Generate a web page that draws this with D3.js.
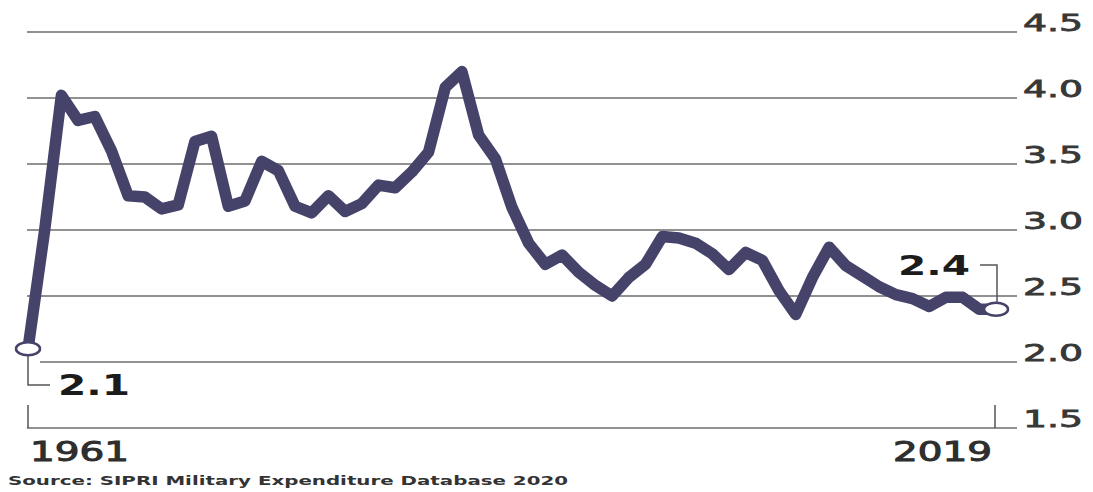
<!DOCTYPE html>
<html>
<head>
<meta charset="utf-8">
<script src="https://cdn.jsdelivr.net/npm/d3@7"></script>
<style>
  html, body { margin: 0; padding: 0; background: #fff; }
  svg { display: block; }
  text { font-family: "DejaVu Sans", Verdana, sans-serif; }
</style>
</head>
<body>
<svg id="chart" width="1093" height="492"></svg>
<script>
// Military expenditure as share of GDP (%), 1961–2019
const years = d3.range(1961, 2020);
const values = [
  2.1, 3.0, 4.02, 3.83, 3.86, 3.6, 3.26, 3.25, 3.16, 3.19,
  3.67, 3.71, 3.18, 3.22, 3.52, 3.45, 3.18, 3.13, 3.26, 3.14,
  3.2, 3.34, 3.32, 3.44, 3.59, 4.08, 4.2, 3.72, 3.54, 3.17,
  2.9, 2.74, 2.81, 2.68, 2.58, 2.5, 2.64, 2.74, 2.95, 2.94,
  2.9, 2.82, 2.7, 2.83, 2.77, 2.54, 2.36, 2.64, 2.87, 2.73,
  2.65, 2.57, 2.51, 2.48, 2.42, 2.49, 2.49, 2.4, 2.4
];
const yTicks = [1.5, 2.0, 2.5, 3.0, 3.5, 4.0, 4.5];
const yearLabels = [1961, 2019];
const startLabel = "2.1";
const endLabel = "2.4";
const sourceText = "Source: SIPRI Military Expenditure Database 2020";

const data = years.map((yr, i) => ({ year: yr, value: values[i] }));

const svg = d3.select("#chart");
const lineColor = "#46436b";
const gridColor = "#919191";

const x = d3.scaleLinear().domain([1961, 2019]).range([28, 996]);
const y = d3.scaleLinear().domain([1.5, 4.5]).range([428, 32]);

const gridRight = 1017;

// horizontal gridlines
svg.append("g").selectAll("line")
  .data(yTicks)
  .join("line")
  .attr("x1", d => d === 2.0 ? 40 : 27)
  .attr("x2", gridRight)
  .attr("y1", d => y(d))
  .attr("y2", d => y(d))
  .attr("stroke", gridColor)
  .attr("stroke-width", 2);

// value labels on the right
svg.append("g").selectAll("text")
  .data(yTicks)
  .join("text")
  .attr("x", 1023)
  .attr("y", d => y(d) - 1)
  .attr("font-size", 23)
  .attr("fill", "#383838")
  .attr("stroke", "#383838")
  .attr("stroke-width", 0.8)
  .attr("textLength", 60)
  .attr("lengthAdjust", "spacingAndGlyphs")
  .text(d => d3.format(".1f")(d));

// year ticks at both ends of the baseline
svg.append("g").selectAll("line")
  .data(yearLabels)
  .join("line")
  .attr("x1", d => x(d) - (d === 2019 ? 1 : 0))
  .attr("x2", d => x(d) - (d === 2019 ? 1 : 0))
  .attr("y1", 405)
  .attr("y2", y(1.5))
  .attr("stroke", "#555")
  .attr("stroke-width", 1.5);

svg.append("g").selectAll("text")
  .data(yearLabels)
  .join("text")
  .attr("x", d => d === 1961 ? x(d) + 2 : x(d) - 103)
  .attr("y", 461)
  .attr("font-size", 27)
  .attr("fill", "#2e2e2e")
  .attr("stroke", "#2e2e2e")
  .attr("stroke-width", 1)
  .attr("textLength", 99)
  .attr("lengthAdjust", "spacingAndGlyphs")
  .text(d => d);

// the series line
const line = d3.line()
  .x(d => x(d.year))
  .y(d => y(d.value))
  .curve(d3.curveLinear);

svg.append("path")
  .datum(data)
  .attr("d", line)
  .attr("fill", "none")
  .attr("stroke", lineColor)
  .attr("stroke-width", 11.5)
  .attr("stroke-linejoin", "round")
  .attr("stroke-linecap", "round");

// end-point callouts
const first = data[0];
const last = data[data.length - 1];

svg.append("path")
  .attr("d", `M${x(first.year)},${y(first.value) + 7} V385 H50`)
  .attr("fill", "none")
  .attr("stroke", "#555")
  .attr("stroke-width", 1.5);

svg.append("path")
  .attr("d", `M980,265 H${x(last.year) + 1} V${y(last.value) - 7}`)
  .attr("fill", "none")
  .attr("stroke", "#555")
  .attr("stroke-width", 1.5);

svg.append("g").selectAll("ellipse")
  .data([first, last])
  .join("ellipse")
  .attr("cx", d => x(d.year))
  .attr("cy", d => y(d.value))
  .attr("rx", 12)
  .attr("ry", 6.5)
  .attr("fill", "#fff")
  .attr("stroke", lineColor)
  .attr("stroke-width", 2.5);

svg.append("text")
  .attr("x", 58)
  .attr("y", 395)
  .attr("font-size", 29)
  .attr("font-weight", "bold")
  .attr("fill", "#1c1c1c")
  .attr("textLength", 72)
  .attr("lengthAdjust", "spacingAndGlyphs")
  .text(startLabel);

svg.append("text")
  .attr("x", 898)
  .attr("y", 275)
  .attr("font-size", 27)
  .attr("font-weight", "bold")
  .attr("fill", "#1c1c1c")
  .attr("textLength", 72)
  .attr("lengthAdjust", "spacingAndGlyphs")
  .text(endLabel);

// source line
svg.append("text")
  .attr("x", 8)
  .attr("y", 485)
  .attr("font-size", 13)
  .attr("font-weight", "bold")
  .attr("fill", "#333")
  .attr("textLength", 560)
  .attr("lengthAdjust", "spacingAndGlyphs")
  .text(sourceText);
</script>
</body>
</html>
